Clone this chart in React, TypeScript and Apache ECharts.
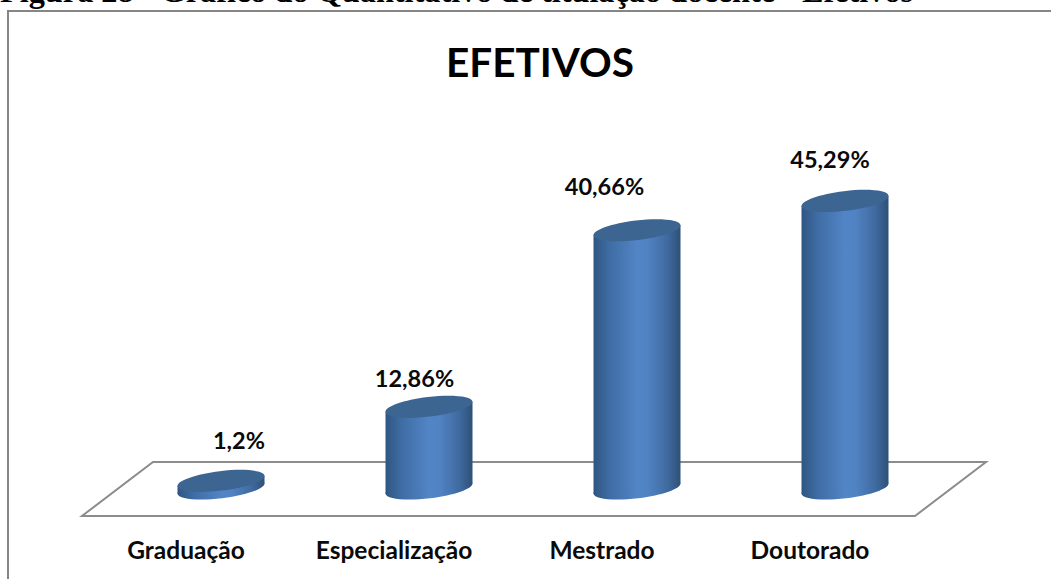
import React, { useEffect, useRef } from "react";
import * as echarts from "echarts";

const categories = ["Graduação", "Especialização", "Mestrado", "Doutorado"];
const values = [1.2, 12.86, 40.66, 45.29];
const valueLabels = ["1,2%", "12,86%", "40,66%", "45,29%"];
const caption = "Figura 28 - Gráfico do Quantitativo de titulação docente - Efetivos";
const chartTitle = "EFETIVOS";

const FONT = "Lato, Carlito, 'Open Sans', sans-serif";
// hand-placed label offsets relative to the top of each cylinder
const labelDx = [18, -14.5, -32.5, -15];
const labelDy = [-41, -29, -44, -42];

const DEPTH_X = 35;
const DEPTH_Y = -27.5;
const RX = 43.8;
const RY = 9.8;
const ROT = -6.9;
const RAD = (ROT * Math.PI) / 180;
const EDGE_X = Math.sqrt(RX * RX * Math.cos(RAD) ** 2 + RY * RY * Math.sin(RAD) ** 2);
const EDGE_Y = (Math.abs(Math.sin(RAD) * Math.cos(RAD)) * (RX * RX - RY * RY)) / EDGE_X;

const bodyFill = () =>
  new echarts.graphic.LinearGradient(0, 0, 1, 0, [
    { offset: 0, color: "#2f5583" },
    { offset: 0.18, color: "#3f6ca3" },
    { offset: 0.5, color: "#5285c6" },
    { offset: 0.62, color: "#5083c3" },
    { offset: 0.85, color: "#3f6a9f" },
    { offset: 1, color: "#2f5078" },
  ]);

export default function App() {
  const ref = useRef<HTMLDivElement>(null);
  useEffect(() => {
    document.body.style.margin = "0";
    const chart = echarts.init(ref.current!, undefined, { renderer: "svg" });
    const renderItem = (params: any, api: any) => {
      const idx = api.value(0);
      const [px, py] = api.coord([idx, api.value(1)]);
      const [, by] = api.coord([idx, 0]);
      const cx = px + DEPTH_X;
      const top = py + DEPTH_Y;
      const bottom = by + DEPTH_Y;
      return {
        type: "group",
        children: [
          {
            type: "ellipse",
            x: cx,
            y: bottom,
            rotation: -RAD,
            shape: { cx: 0, cy: 0, rx: RX, ry: RY },
            style: { fill: bodyFill(), stroke: "none" },
          },
          {
            type: "polygon",
            shape: {
              points: [
                [cx - EDGE_X, top + EDGE_Y],
                [cx - EDGE_X, bottom + EDGE_Y],
                [cx + EDGE_X, bottom - EDGE_Y],
                [cx + EDGE_X, top - EDGE_Y],
              ],
            },
            style: { fill: bodyFill(), stroke: "none" },
          },
          {
            type: "ellipse",
            x: cx,
            y: top,
            rotation: -RAD,
            shape: { cx: 0, cy: 0, rx: RX, ry: RY },
            style: { fill: "#3d6592", stroke: "none" },
          },
          {
            type: "text",
            x: cx + labelDx[idx],
            y: top + labelDy[idx],
            style: {
              text: valueLabels[idx],
              font: `bold 23.5px ${FONT}`,
              fill: "#0a0a0a",
              align: "center",
              verticalAlign: "middle",
            },
          },
        ],
      };
    };
    chart.setOption({
      animation: false,
      backgroundColor: "#ffffff",
      title: {
        text: chartTitle,
        left: 535,
        top: 36,
        textAlign: "center",
        textStyle: { fontFamily: FONT, fontWeight: "bold", fontSize: 40.5, color: "#000000" },
      },
      grid: { left: 82, right: 137, top: 198.5, bottom: 63, containLabel: false },
      xAxis: {
        type: "category",
        data: categories,
        axisLine: { show: false },
        axisTick: { show: false },
        axisLabel: {
          interval: 0,
          margin: 21,
          fontFamily: FONT,
          fontWeight: "bold",
          fontSize: 24.5,
          color: "#0a0a0a",
        },
      },
      yAxis: { type: "value", min: 0, max: 50, show: false },
      graphic: [
        {
          type: "text",
          x: 0,
          y: -25,
          z: 5,
          style: {
            text: caption,
            font: "bold 32.3px 'Liberation Serif', serif",
            fill: "#000000",
          },
        },
        {
          type: "polyline",
          z: 1,
          shape: { points: [[8, 579], [8, 11], [1051, 11]] },
          style: { stroke: "#868686", lineWidth: 2, fill: "none" },
        },
        {
          type: "polygon",
          z: 1,
          shape: { points: [[82, 516], [915, 516], [986, 462], [153, 462]] },
          style: { stroke: "#8c8c8c", lineWidth: 2, fill: "none" },
        },
      ],
      series: [
        {
          type: "custom",
          z: 3,
          renderItem,
          encode: { x: 0, y: 1 },
          data: values.map((v, i) => [i, v]),
        },
      ],
    });
    return () => chart.dispose();
  }, []);
  return <div ref={ref} style={{ position: "absolute", left: 0, top: 0, width: 1051, height: 579 }} />;
}
